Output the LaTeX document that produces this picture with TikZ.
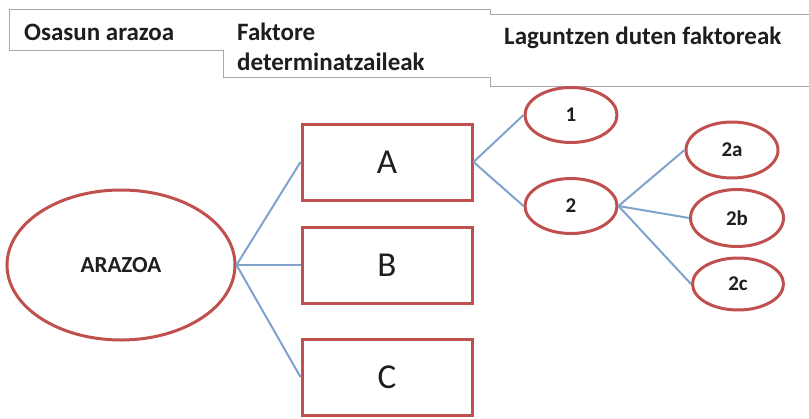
\documentclass[tikz,border=0pt]{standalone}
\usepackage{fontspec}
\setmainfont{Carlito}
\usetikzlibrary{shapes.geometric}
\definecolor{boxred}{HTML}{C0504D}
\definecolor{linkblue}{HTML}{7FA3CC}
\definecolor{headgray}{HTML}{A8A8A8}
\definecolor{inkdark}{HTML}{1E1E1E}
\tikzset{
  headline/.style={draw=headgray, line width=1pt},
  headtext/.style={anchor=base west, inner sep=0pt, text=inkdark,
    font=\fontsize{25}{30}\selectfont\bfseries},
  rootnode/.style={ellipse, draw=boxred, line width=3pt, fill=white,
    minimum width=228pt, minimum height=150pt, inner sep=0pt, text=inkdark,
    font=\fontsize{23}{27}\selectfont\bfseries},
  factorbox/.style={rectangle, draw=boxred, line width=3pt, fill=white,
    minimum width=170pt, minimum height=76pt, inner sep=0pt, text=inkdark,
    font=\fontsize{35}{40}\selectfont},
  leafnode/.style={ellipse, draw=boxred, line width=3pt, fill=white,
    minimum width=92pt, minimum height=55pt, inner sep=0pt, text=inkdark,
    font=\fontsize{21}{25}\selectfont\bfseries},
  link/.style={draw=linkblue, line width=2pt}
}
\begin{document}
\begin{tikzpicture}[x=1pt,y=-1pt]
\useasboundingbox (0,0) rectangle (809,418);

% column headings: three joined text frames, drawn as one stepped outline
\draw[headline] (9,50) -- (9,9.5) -- (490,9.5) -- (490,14) -- (830,14);
\draw[headline] (9,50) -- (223,50) -- (223,77) -- (490,77) -- (490,86) -- (830,86);
\node[headtext] (h1) at (24,40) {Osasun arazoa};
\node[headtext] (h2a) at (237,40) {Faktore};
\node[headtext] (h2b) at (237,70) {determinatzaileak};
\node[headtext] (h3) at (504,44) {Laguntzen duten faktoreak};

% tree
\node[rootnode] (root) at (121,265) {ARAZOA};
\node[factorbox] (A) at (387,162) {A};
\node[factorbox] (B) at (387,265) {B};
\node[factorbox] (C) at (387,377) {C};
\node[leafnode] (n1) at (571,115) {1};
\node[leafnode] (n2) at (571,206) {2};
\node[leafnode, minimum height=56pt] (n2a) at (732,150) {2a};
\node[leafnode, minimum width=93pt, minimum height=57pt] (n2b) at (737,218) {2b};
\node[leafnode, minimum width=91pt, minimum height=52pt] (n2c) at (738,284) {2c};

\draw[link] (root.east) -- (A.west);
\draw[link] (root.east) -- (B.west);
\draw[link] (root.east) -- (C.west);
\draw[link] (A.east) -- (n1.west);
\draw[link] (A.east) -- (n2.west);
\draw[link] (n2.east) -- (n2a.west);
\draw[link] (n2.east) -- (n2b.west);
\draw[link] (n2.east) -- (n2c.west);
\end{tikzpicture}
\end{document}
